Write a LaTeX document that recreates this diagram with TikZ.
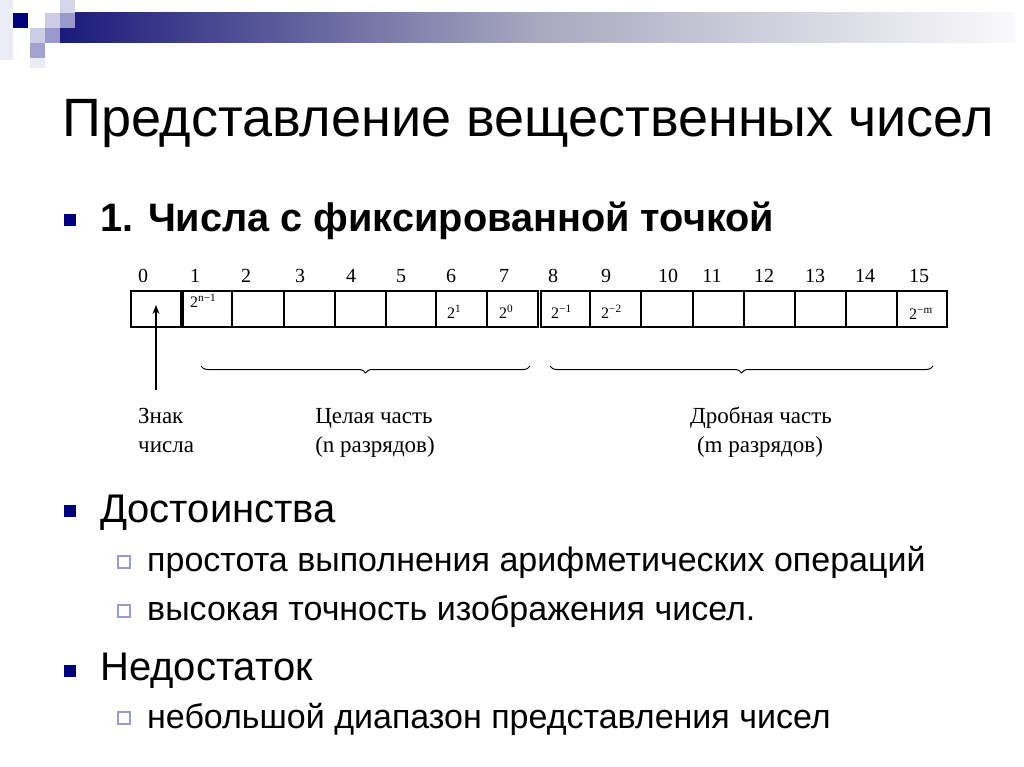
\documentclass[tikz,border=0pt]{standalone}
\usepackage{fontspec}
\setmainfont{Liberation Sans}
\newfontfamily\serf{Liberation Serif}
\usetikzlibrary{arrows.meta,decorations.pathreplacing}
\definecolor{navy}{HTML}{00007F}
\definecolor{lav}{HTML}{9999CC}
\definecolor{lavlight}{HTML}{CCCCE6}
\definecolor{lavfaint}{HTML}{ECECF6}
\definecolor{barleft}{HTML}{1A1A7C}
\definecolor{barmid}{HTML}{A8A8C0}
\definecolor{barright}{HTML}{FAFAFC}
\tikzset{
  sq/.style={inner sep=0pt, minimum size=12pt, fill=navy},
  subsq/.style={inner sep=0pt, minimum size=12pt, draw=lav, line width=1.3pt, fill=white},
  titletext/.style={inner sep=0pt, anchor=base west, font=\fontsize{54}{60}\selectfont},
  headtext/.style={inner sep=0pt, anchor=base west, font=\fontsize{39.7}{44}\selectfont\bfseries},
  l1text/.style={inner sep=0pt, anchor=base west, font=\fontsize{40}{44}\selectfont},
  l2text/.style={inner sep=0pt, anchor=base west, font=\fontsize{34}{38}\selectfont},
  cell/.style={draw, line width=1.2pt, minimum height=36pt, inner sep=0pt},
  num/.style={inner sep=0pt, font=\serf\fontsize{20}{22}\selectfont},
  pw/.style={inner sep=0pt, anchor=west, font=\serf\fontsize{16}{18}\selectfont},
  lab/.style={inner sep=0pt, font=\serf\fontsize{23}{26}\selectfont},
  bracestyle/.style={decorate, decoration={brace, mirror, amplitude=7pt}, line width=1pt},
}
\begin{document}
\begin{tikzpicture}[x=1pt,y=-1pt]
\useasboundingbox (0,0) rectangle (1024,767);
\fill[white] (0,0) rectangle (1024,767);
% header decoration
\shade[left color=barleft, right color=barright, middle color=barmid] (60,13) rectangle (1015,43);
\fill[lavfaint] (0,0) rectangle (13,60);
\fill[navy] (13,13) rectangle (28,28);
\fill[lavlight] (45,13) rectangle (60,28);
\fill[lavlight!80!white] (60,0) rectangle (75,13);
\fill[lav] (60,13) rectangle (75,28);
\fill[lavlight] (30,28) rectangle (45,43);
\fill[lav] (45,28) rectangle (60,43);
\fill[lav!90!white] (30,43) rectangle (45,58);
\fill[lavfaint] (30,58) rectangle (45,68);

% title
\node[titletext] (title) at (62,137) {Представление вещественных чисел};

% heading bullet
\node[sq] (b1) at (70,220) {};
\node[headtext] (h1) at (100,232) {1. Числа с фиксированной точкой};

% cells
\foreach \i/\l/\r in {0/131/181, 1/183/232, 2/232/284, 3/284/335, 4/335/386, 5/386/436, 6/436/487, 7/487/538, 8/541/590, 9/590/641, 10/641/693, 11/693/744, 12/744/795, 13/795/846, 14/846/897, 15/897/947}
  \node[cell, minimum width={(\r-\l)*1pt}] (c\i) at ({(\l+\r)/2},309) {};

% bit numbers
\foreach \i/\x in {0/143, 1/195, 2/246, 3/300, 4/351, 5/401, 6/451, 7/504, 8/553, 9/606, 10/668, 11/712, 12/764, 13/815, 14/865, 15/919}
  \node[num] (n\i) at (\x,276) {\i};

% weights
\node[pw] (w1) at (190,301) {2\textsuperscript{n−1}};
\node[pw] (w6) at (447,312) {2\textsuperscript{1}};
\node[pw] (w7) at (499,312) {2\textsuperscript{0}};
\node[pw] (w8) at (551,312) {2\textsuperscript{−1}};
\node[pw] (w9) at (601,312) {2\textsuperscript{−2}};
\node[pw] (w15) at (909,314) {2\textsuperscript{−m}};

% sign arrow
\coordinate (signtail) at (156,390);
\coordinate (signtip) at (156,305);
\draw[line width=1.4pt, -{Stealth[length=9pt,width=7pt]}] (signtail) -- (signtip);

% braces
\coordinate (bl1) at (201,366);
\coordinate (br1) at (530,366);
\coordinate (bl2) at (550,366);
\coordinate (br2) at (933,366);
\draw[bracestyle] (bl1) -- (br1);
\draw[bracestyle] (bl2) -- (br2);

% labels
\node[lab, anchor=base west] (s1) at (138,423) {Знак};
\node[lab, anchor=base west] (s2) at (138,452) {числа};
\node[lab, anchor=base] (i1) at (374,423) {Целая часть};
\node[lab, anchor=base] (i2) at (375,452) {(n разрядов)};
\node[lab, anchor=base] (f1) at (761,423) {Дробная часть};
\node[lab, anchor=base] (f2) at (760,452) {(m разрядов)};

% advantages
\node[sq] (b2) at (70,511) {};
\node[l1text] (t2) at (100,522) {Достоинства};
\node[subsq] (s21) at (124,562) {};
\node[l2text] (t21) at (147,571) {простота выполнения арифметических операций};
\node[subsq] (s22) at (124,611) {};
\node[l2text] (t22) at (147,620) {высокая точность изображения чисел.};

% disadvantage
\node[sq] (b3) at (70,671) {};
\node[l1text] (t3) at (100,680) {Недостаток};
\node[subsq] (s31) at (124,718) {};
\node[l2text] (t31) at (147,728) {небольшой диапазон представления чисел};
\end{tikzpicture}
\end{document}
